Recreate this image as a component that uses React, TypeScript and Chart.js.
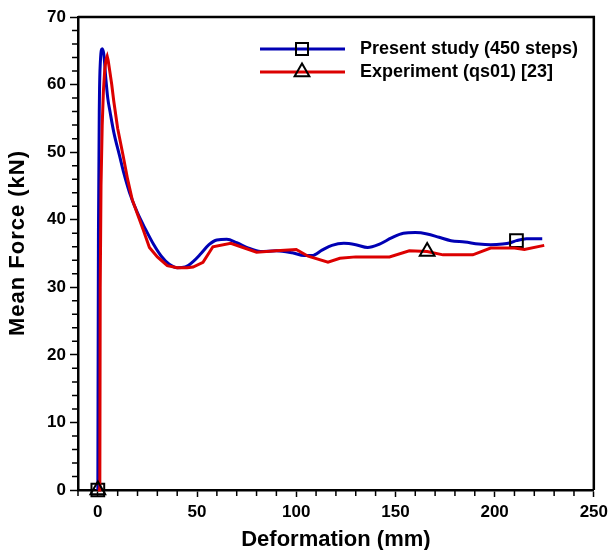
import React, { useEffect, useRef } from "react";
import { Chart, registerables } from "chart.js";

Chart.register(...registerables);

// Present study (450 steps) – blue
const presentX = [0, 0.3, 0.8, 1.3, 2.2, 3, 4, 5, 6.2, 8, 11, 13, 16, 20, 24, 28, 32, 36, 40, 44, 48, 52, 56, 60, 65, 70, 76, 82, 90, 98, 104, 108, 113, 118, 124, 130, 136, 142, 148, 154, 160, 166, 172, 178, 185, 192, 198, 204, 208, 211, 216, 224];
const presentY = [0, 38, 58, 63.5, 65.3, 64.5, 61, 58, 55.9, 53, 49.4, 47, 44, 41, 38.6, 36.4, 34.6, 33.4, 32.9, 33.0, 33.8, 35.0, 36.3, 37.0, 37.1, 36.6, 35.8, 35.3, 35.4, 35.1, 34.7, 34.7, 35.5, 36.2, 36.5, 36.3, 35.9, 36.4, 37.3, 38.0, 38.1, 37.9, 37.4, 36.9, 36.7, 36.4, 36.3, 36.4, 36.6, 36.9, 37.2, 37.2];

// Experiment (qs01) [23] – red
const experimentX = [0, 1.0, 1.2, 1.6, 2.2, 2.8, 3.5, 4.2, 4.7, 5.2, 6, 7, 8, 10, 12.8, 15, 17.3, 20, 23, 26, 30, 35, 40, 45, 48, 53, 58, 67, 75, 80, 90, 100, 106, 116, 122, 130, 147, 157, 166, 174, 189, 198, 210, 215, 225];
const experimentY = [0, 0, 30, 45, 54, 59, 62.3, 63.8, 64.2, 63.6, 62, 60, 57.6, 53.5, 49.4, 46, 43, 40.8, 38.4, 35.9, 34.5, 33.2, 32.9, 32.9, 33.0, 33.7, 36.0, 36.5, 35.7, 35.2, 35.4, 35.6, 34.6, 33.7, 34.3, 34.5, 34.5, 35.4, 35.3, 34.8, 34.8, 35.8, 35.8, 35.6, 36.2];

const presentMarkerX = [0, 211];
const experimentMarkerX = [0, 166];

const legendLabels = ["Present study (450 steps)", "Experiment (qs01) [23]"];
const xTitle = "Deformation (mm)";
const yTitle = "Mean Force (kN)";

const xMajorTicks = [0, 50, 100, 150, 200, 250];
const yMajorTicks = [0, 10, 20, 30, 40, 50, 60, 70];

const BLUE = "#0000b4";
const RED = "#dc0000";
const FONT = "'Liberation Sans', Arial, sans-serif";

export default function App() {
  const ref = useRef<HTMLCanvasElement | null>(null);

  useEffect(() => {
    if (!ref.current) return;
    const toPts = (xs: number[], ys: number[]) => xs.map((x, i) => ({ x, y: ys[i] }));

    const decor = {
      id: "decor",
      afterDraw(chart: any) {
        const { ctx, chartArea, scales } = chart;
        const xs = scales.x;
        const ys = scales.y;
        ctx.save();
        // frame top & right
        ctx.strokeStyle = "#000";
        ctx.lineWidth = 2.5;
        ctx.beginPath();
        ctx.moveTo(chartArea.left, chartArea.top);
        ctx.lineTo(chartArea.right, chartArea.top);
        ctx.lineTo(chartArea.right, chartArea.bottom);
        ctx.stroke();
        // minor ticks
        ctx.lineWidth = 1.5;
        ctx.beginPath();
        for (let v = -10; v <= 250; v += 10) {
          if (v % 50 === 0) continue;
          const px = xs.getPixelForValue(v);
          ctx.moveTo(px, chartArea.bottom);
          ctx.lineTo(px, chartArea.bottom + 6);
        }
        for (let v = 0; v <= 70; v += 2) {
          if (v % 10 === 0) continue;
          const py = ys.getPixelForValue(v);
          ctx.moveTo(chartArea.left, py);
          ctx.lineTo(chartArea.left - 6, py);
        }
        ctx.stroke();

        // axis titles
        ctx.fillStyle = "#000";
        ctx.font = `bold 22px ${FONT}`;
        ctx.textAlign = "center";
        ctx.textBaseline = "middle";
        ctx.fillText(xTitle, (chartArea.left + chartArea.right) / 2, 540);
        ctx.save();
        ctx.translate(18, 243);
        ctx.rotate(-Math.PI / 2);
        (ctx as any).letterSpacing = "1px";
        ctx.fillText(yTitle, 0, 0);
        (ctx as any).letterSpacing = "0px";
        ctx.restore();

        // legend
        const lx0 = 260, lx1 = 345, mx = 302;
        const rows = [49, 72];
        ctx.lineWidth = 3;
        ctx.strokeStyle = BLUE;
        ctx.beginPath();
        ctx.moveTo(lx0, rows[0]);
        ctx.lineTo(lx1, rows[0]);
        ctx.stroke();
        ctx.strokeStyle = RED;
        ctx.beginPath();
        ctx.moveTo(lx0, rows[1]);
        ctx.lineTo(lx1, rows[1]);
        ctx.stroke();
        ctx.strokeStyle = "#000";
        ctx.lineWidth = 2;
        ctx.strokeRect(mx - 6, rows[0] - 6, 12, 12);
        const r = 8.5;
        ctx.beginPath();
        ctx.moveTo(mx, rows[1] - r);
        ctx.lineTo(mx - r * 0.866, rows[1] + r * 0.5);
        ctx.lineTo(mx + r * 0.866, rows[1] + r * 0.5);
        ctx.closePath();
        ctx.stroke();
        ctx.font = `bold 18px ${FONT}`;
        ctx.textAlign = "left";
        ctx.fillText(legendLabels[0], 360, rows[0]);
        ctx.fillText(legendLabels[1], 360, rows[1]);
        ctx.restore();
      },
    };

    const chart = new Chart(ref.current, {
      type: "scatter",
      data: {
        datasets: [
          {
            label: legendLabels[0],
            data: toPts(presentX, presentY),
            showLine: true,
            borderColor: BLUE,
            borderWidth: 3,
            cubicInterpolationMode: "monotone",
            pointStyle: "rect",
            pointRadius: (c: any) => (presentMarkerX.includes(c.raw?.x) ? 9 : 0),
            pointBorderColor: "#000",
            pointBorderWidth: 2,
            pointBackgroundColor: "rgba(0,0,0,0)",
            clip: false,
            order: 2,
          } as any,
          {
            label: legendLabels[1],
            data: toPts(experimentX, experimentY),
            showLine: true,
            borderColor: RED,
            borderWidth: 3,
            tension: 0,
            pointStyle: "triangle",
            pointRadius: (c: any) => (experimentMarkerX.includes(c.raw?.x) && !(c.raw?.x === 0 && c.dataIndex > 0) ? 8.5 : 0),
            pointBorderColor: "#000",
            pointBorderWidth: 2,
            pointBackgroundColor: "rgba(0,0,0,0)",
            clip: false,
            order: 1,
          } as any,
        ],
      },
      options: {
        animation: false,
        responsive: true,
        maintainAspectRatio: false,
        layout: { padding: { left: 0, top: 17, right: 18, bottom: 0 } },
        plugins: { legend: { display: false }, tooltip: { enabled: false } },
        scales: {
          x: {
            type: "linear",
            min: -10,
            max: 250,
            afterBuildTicks: (s: any) => {
              s.ticks = xMajorTicks.map((v) => ({ value: v }));
            },
            afterFit: (s: any) => {
              s.height = 60;
            },
            ticks: {
              autoSkip: false,
              maxRotation: 0,
              padding: 5,
              color: "#000",
              font: { family: FONT, size: 17, weight: "bold" },
            },
            grid: { drawOnChartArea: false, drawTicks: true, tickLength: 7, tickColor: "#000", tickWidth: 1.5 },
            border: { display: true, color: "#000", width: 2.5 },
          },
          y: {
            type: "linear",
            min: 0,
            max: 70,
            afterBuildTicks: (s: any) => {
              s.ticks = yMajorTicks.map((v) => ({ value: v }));
            },
            afterFit: (s: any) => {
              s.width = 78;
            },
            ticks: {
              autoSkip: false,
              padding: 4,
              color: "#000",
              font: { family: FONT, size: 17, weight: "bold" },
            },
            grid: { drawOnChartArea: false, drawTicks: true, tickLength: 8, tickColor: "#000", tickWidth: 1.5 },
            border: { display: true, color: "#000", width: 2.5 },
          },
        },
      },
      plugins: [decor],
    });
    return () => chart.destroy();
  }, []);

  return (
    <div style={{ position: "fixed", left: 0, top: 0, width: 613, height: 550, background: "#fff" }}>
      <canvas ref={ref} />
    </div>
  );
}
